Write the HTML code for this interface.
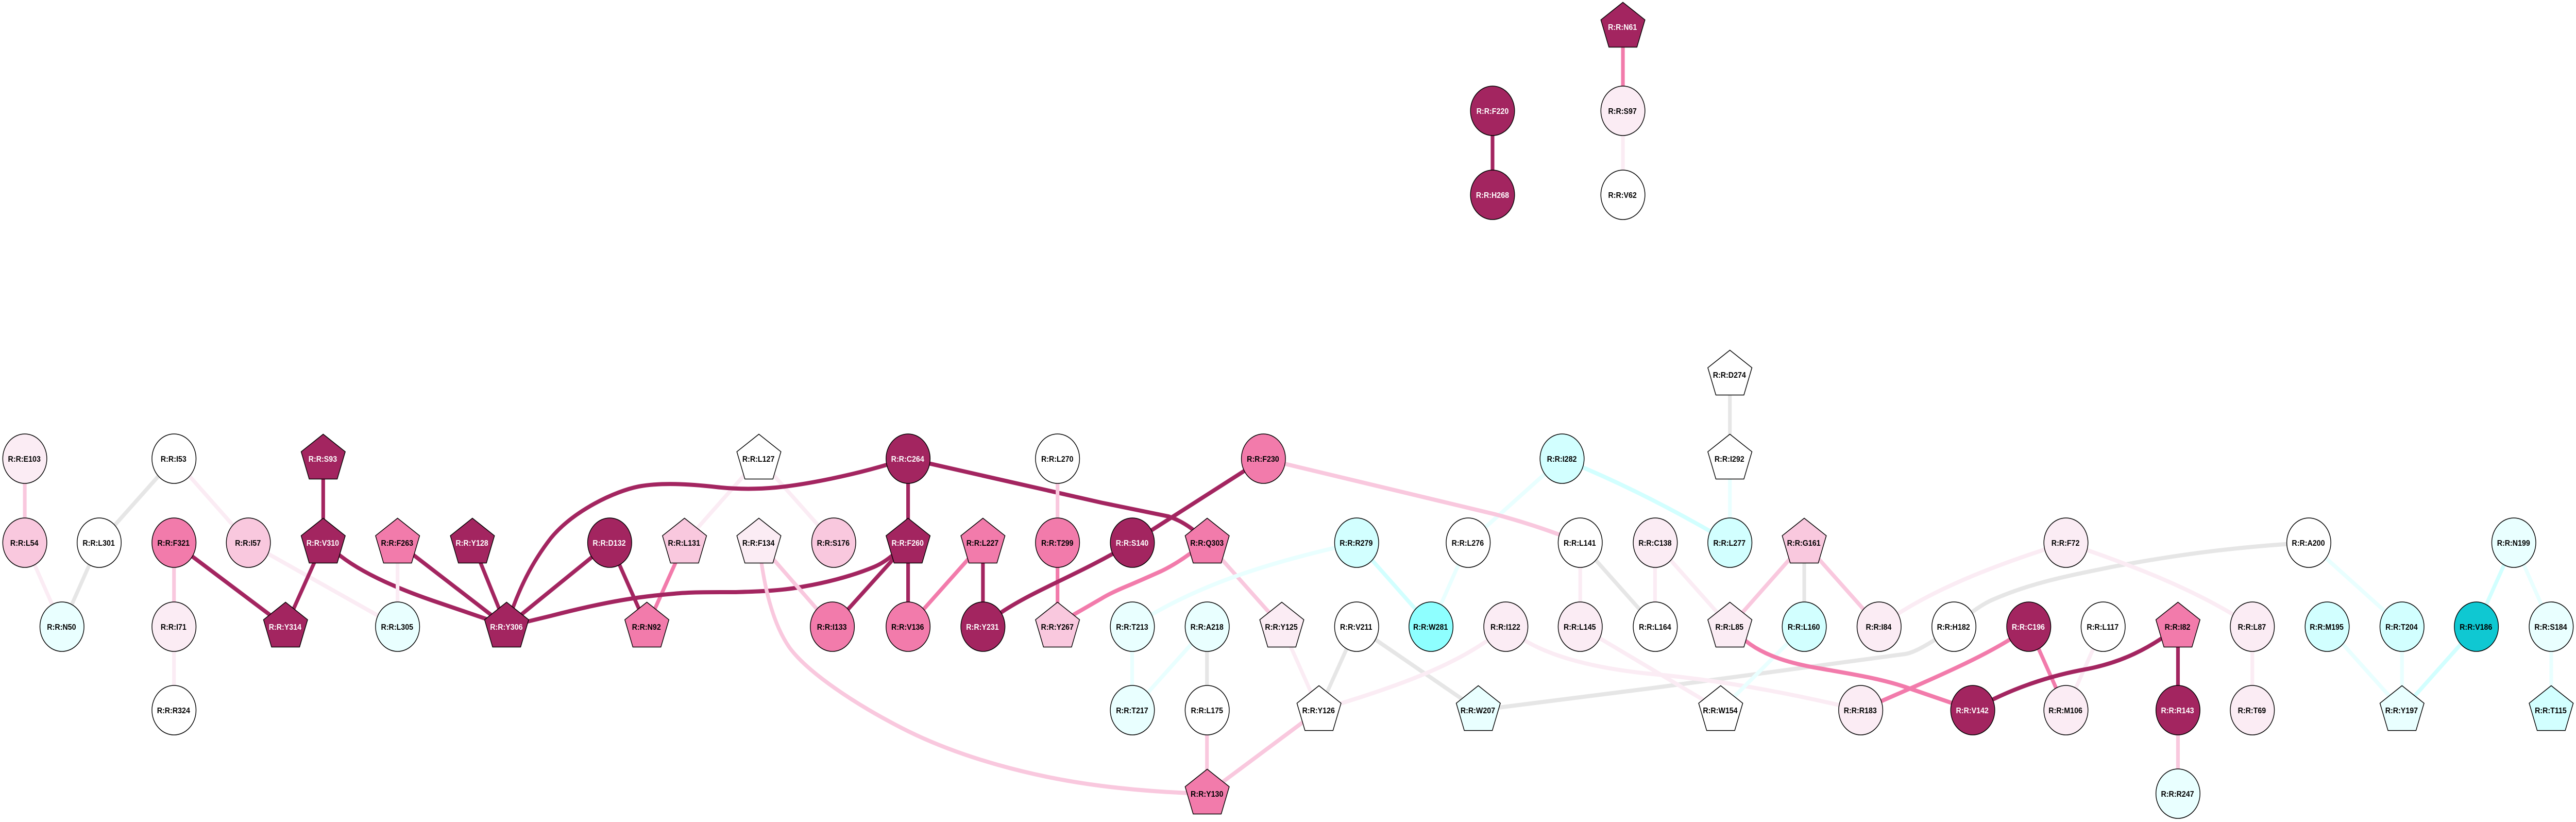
<!DOCTYPE html>
<html><head><meta charset="utf-8"><style>
html,body{margin:0;padding:0;background:#fff;overflow:hidden}
svg{display:block;position:absolute;left:0;top:0;width:100vw;height:100vh}
.e path,.e line{fill:none;stroke-width:8}
.d{stroke:#a32560}.p{stroke:#f27bab}.l{stroke:#f9c8de}.v{stroke:#fbecf4}.g{stroke:#e6e6e6}.c{stroke:#e9ffff}.k{stroke:#d2ffff}
.n ellipse,.n polygon{stroke:#000;stroke-width:1.6}
.Fd{fill:#a32560}.Fp{fill:#f27bab}.Fl{fill:#f9c8de}.Fv{fill:#fbecf4}.Fw{fill:#fff}.Fc{fill:#e9ffff}.Fk{fill:#d2ffff}.Fq{fill:#8effff}.Ft{fill:#0fc8d2}
text{font-family:"Liberation Sans",sans-serif;font-weight:bold;font-size:16px;text-anchor:middle;fill:#000}
text.w{fill:#fff}
</style></head><body>
<svg viewBox="0 0 5611 1595" preserveAspectRatio="none" xmlns="http://www.w3.org/2000/svg">
<rect width="5611" height="1595" fill="#fff"/>
<g class="e">
<line class="l" x1="54" y1="890" x2="54" y2="1053"/>
<line class="v" x1="54" y1="1053" x2="135" y2="1216"/>
<line class="g" x1="379" y1="890" x2="216" y2="1053"/>
<line class="g" x1="216" y1="1053" x2="135" y2="1216"/>
<line class="v" x1="379" y1="890" x2="541" y2="1053"/>
<line class="v" x1="541" y1="1053" x2="866" y2="1216"/>
<line class="l" x1="379" y1="1053" x2="379" y2="1216"/>
<line class="v" x1="379" y1="1216" x2="379" y2="1378"/>
<line class="d" x1="379" y1="1053" x2="622" y2="1216"/>
<line class="d" x1="704" y1="890" x2="704" y2="1053"/>
<line class="d" x1="704" y1="1053" x2="622" y2="1216"/>
<path class="d" d="M704 1053L742 1079C790 1112 860 1140 941 1165L1056 1200L1103 1216"/>
<line class="v" x1="866" y1="1053" x2="866" y2="1216"/>
<line class="d" x1="866" y1="1053" x2="1103" y2="1216"/>
<line class="d" x1="1029" y1="1053" x2="1103" y2="1216"/>
<line class="d" x1="1328" y1="1053" x2="1103" y2="1216"/>
<line class="d" x1="1328" y1="1053" x2="1409" y2="1216"/>
<line class="p" x1="1491" y1="1053" x2="1409" y2="1216"/>
<line class="v" x1="1653" y1="890" x2="1491" y2="1053"/>
<line class="v" x1="1653" y1="890" x2="1816" y2="1053"/>
<path class="d" d="M1978 890L1935 901C1860 921 1760 940 1690 946C1640 950 1600 949 1560 945C1500 939 1440 936 1391 944C1340 953 1250 990 1200 1044C1160 1090 1130 1140 1103 1216"/>
<line class="d" x1="1978" y1="890" x2="1978" y2="1053"/>
<path class="d" d="M1978 890L2400 975.500L2545 1002Q2590 1015 2629 1053"/>
<path class="d" d="M1978 1053L1946 1076Q1925 1092 1904 1100C1850 1120 1790 1132 1751 1138C1700 1147 1640 1148 1600 1149C1540 1149 1500 1149 1468 1152C1400 1157 1330 1165 1200 1195L1103 1216"/>
<line class="d" x1="1978" y1="1053" x2="1813" y2="1216"/>
<line class="d" x1="1978" y1="1053" x2="1978" y2="1216"/>
<line class="l" x1="1653" y1="1053" x2="1813" y2="1216"/>
<path class="l" d="M1653 1053C1660 1110 1675 1200 1720 1257C1760 1305 1860 1365 1965 1413C2090 1470 2250 1508 2400 1525C2480 1534 2550 1538 2629 1540"/>
<line class="p" x1="2141" y1="1053" x2="1978" y2="1216"/>
<line class="d" x1="2141" y1="1053" x2="2141" y2="1216"/>
<line class="l" x1="2303.500" y1="890" x2="2303.500" y2="1053"/>
<line class="p" x1="2303.500" y1="1053" x2="2303.500" y2="1216"/>
<path class="d" d="M2141 1216L2183 1187C2260 1142 2350 1115 2466 1053"/>
<line class="d" x1="2752" y1="890" x2="2466" y2="1053"/>
<path class="p" d="M2629 1053L2591 1075Q2560 1095 2530 1108Q2490 1124 2461 1135Q2420 1150 2400 1161L2340 1192L2303 1216"/>
<line class="l" x1="2629" y1="1053" x2="2792" y2="1216"/>
<path class="c" d="M2955 1053C2800 1085 2620 1125 2466 1216"/>
<line class="k" x1="2955" y1="1053" x2="3117" y2="1216"/>
<line class="c" x1="3198" y1="1053" x2="3117" y2="1216"/>
<line class="c" x1="3402" y1="890" x2="3198" y2="1053"/>
<path class="k" d="M3402 890C3500 925 3620 975 3768 1053"/>
<line class="c" x1="3768" y1="890" x2="3768" y2="1053"/>
<line class="g" x1="3768" y1="727" x2="3768" y2="890"/>
<path class="l" d="M2752 890L3257 998Q3350 1020 3442 1053"/>
<line class="v" x1="3442" y1="1053" x2="3442" y2="1216"/>
<line class="g" x1="3442" y1="1053" x2="3605" y2="1216"/>
<line class="v" x1="3605" y1="1053" x2="3605" y2="1216"/>
<line class="v" x1="3605" y1="1053" x2="3768" y2="1216"/>
<line class="c" x1="2466" y1="1216" x2="2466" y2="1378"/>
<line class="c" x1="2629" y1="1216" x2="2466" y2="1378"/>
<line class="g" x1="2629" y1="1216" x2="2629" y2="1378"/>
<line class="l" x1="2629" y1="1378" x2="2629" y2="1540"/>
<line class="l" x1="2873" y1="1378" x2="2629" y2="1540"/>
<line class="v" x1="2792" y1="1216" x2="2873" y2="1378"/>
<line class="g" x1="2955" y1="1216" x2="2873" y2="1378"/>
<line class="g" x1="2955" y1="1216" x2="3220" y2="1378"/>
<path class="g" d="M3220 1378L3600 1335L4150 1269Q4180 1265 4256 1216"/>
<path class="g" d="M4256 1216L4298 1186Q4320 1172 4337 1165C4420 1132 4500 1118 4600 1100C4720 1080 4850 1062 5029 1053"/>
<path class="v" d="M3280 1216C3180 1290 3050 1330 2873 1378"/>
<path class="v" d="M3280 1216C3340 1265 3450 1295 3600 1308C3750 1320 3900 1345 4053 1378"/>
<line class="v" x1="3442" y1="1216" x2="3748" y2="1378"/>
<line class="c" x1="3930" y1="1216" x2="3748" y2="1378"/>
<line class="l" x1="3930" y1="1053" x2="3768" y2="1216"/>
<line class="g" x1="3930" y1="1053" x2="3930" y2="1216"/>
<line class="l" x1="3930" y1="1053" x2="4093" y2="1216"/>
<path class="p" d="M3768 1216L3803 1244C3840 1270 3890 1285 3951 1295C4020 1306 4090 1315 4150 1333L4297 1378"/>
<path class="v" d="M4093 1216C4200 1145 4350 1095 4500 1053"/>
<path class="v" d="M4500 1053C4620 1090 4780 1140 4906 1216"/>
<path class="p" d="M4419 1216C4340 1270 4200 1320 4053 1378"/>
<line class="p" x1="4419" y1="1216" x2="4500" y2="1378"/>
<line class="v" x1="4581" y1="1216" x2="4500" y2="1378"/>
<path class="d" d="M4297 1378C4380 1335 4470 1310 4547 1298C4620 1285 4680 1260 4744 1216"/>
<line class="d" x1="4744" y1="1216" x2="4744" y2="1378"/>
<line class="l" x1="4744" y1="1378" x2="4744" y2="1540"/>
<line class="v" x1="4906" y1="1216" x2="4906" y2="1378"/>
<line class="c" x1="5029" y1="1053" x2="5232" y2="1216"/>
<line class="k" x1="5476" y1="1053" x2="5394" y2="1216"/>
<line class="c" x1="5476" y1="1053" x2="5557" y2="1216"/>
<line class="c" x1="5069" y1="1216" x2="5232" y2="1378"/>
<line class="c" x1="5232" y1="1216" x2="5232" y2="1378"/>
<line class="k" x1="5394" y1="1216" x2="5232" y2="1378"/>
<line class="c" x1="5557" y1="1216" x2="5557" y2="1378"/>
<line class="p" x1="3535" y1="52" x2="3535" y2="215"/>
<line class="v" x1="3535" y1="215" x2="3535" y2="378"/>
<line class="d" x1="3251" y1="215" x2="3251" y2="378"/>
</g>
<g class="n">
<ellipse cx="54" cy="890" rx="48" ry="48" class="Fv"/><text x="53" y="896">R:R:E103</text>
<ellipse cx="54" cy="1053" rx="48" ry="48" class="Fl"/><text x="53" y="1059">R:R:L54</text>
<ellipse cx="379" cy="890" rx="48" ry="48" class="Fw"/><text x="378" y="896">R:R:I53</text>
<ellipse cx="216" cy="1053" rx="48" ry="48" class="Fw"/><text x="215" y="1059">R:R:L301</text>
<ellipse cx="135" cy="1216" rx="48" ry="48" class="Fc"/><text x="134" y="1222">R:R:N50</text>
<ellipse cx="379" cy="1053" rx="48" ry="48" class="Fp"/><text x="378" y="1059">R:R:F321</text>
<ellipse cx="379" cy="1216" rx="48" ry="48" class="Fv"/><text x="378" y="1222">R:R:I71</text>
<ellipse cx="379" cy="1378" rx="48" ry="48" class="Fw"/><text x="378" y="1384">R:R:R324</text>
<ellipse cx="541" cy="1053" rx="48" ry="48" class="Fl"/><text x="540" y="1059">R:R:I57</text>
<polygon transform="translate(704 890)" points="0,-47.5 48,-13.5 30.5,39.5 -30.5,39.5 -48,-13.5" class="Fd"/><text class="w" x="703" y="896">R:R:S93</text>
<polygon transform="translate(704 1053)" points="0,-47.5 48,-13.5 30.5,39.5 -30.5,39.5 -48,-13.5" class="Fd"/><text class="w" x="703" y="1059">R:R:V310</text>
<polygon transform="translate(622 1216)" points="0,-47.5 48,-13.5 30.5,39.5 -30.5,39.5 -48,-13.5" class="Fd"/><text class="w" x="621" y="1222">R:R:Y314</text>
<polygon transform="translate(866 1053)" points="0,-47.5 48,-13.5 30.5,39.5 -30.5,39.5 -48,-13.5" class="Fp"/><text x="865" y="1059">R:R:F263</text>
<ellipse cx="866" cy="1216" rx="48" ry="48" class="Fc"/><text x="865" y="1222">R:R:L305</text>
<polygon transform="translate(1029 1053)" points="0,-47.5 48,-13.5 30.5,39.5 -30.5,39.5 -48,-13.5" class="Fd"/><text class="w" x="1028" y="1059">R:R:Y128</text>
<polygon transform="translate(1103.500 1216)" points="0,-47.5 48,-13.5 30.5,39.5 -30.5,39.5 -48,-13.5" class="Fd"/><text class="w" x="1103" y="1222">R:R:Y306</text>
<ellipse cx="1328" cy="1053" rx="48" ry="48" class="Fd"/><text class="w" x="1327" y="1059">R:R:D132</text>
<polygon transform="translate(1491 1053)" points="0,-47.5 48,-13.5 30.5,39.5 -30.5,39.5 -48,-13.5" class="Fl"/><text x="1490" y="1059">R:R:L131</text>
<polygon transform="translate(1409 1216)" points="0,-47.5 48,-13.5 30.5,39.5 -30.5,39.5 -48,-13.5" class="Fp"/><text x="1408" y="1222">R:R:N92</text>
<polygon transform="translate(1653 890)" points="0,-47.5 48,-13.5 30.5,39.5 -30.5,39.5 -48,-13.5" class="Fw"/><text x="1652" y="896">R:R:L127</text>
<polygon transform="translate(1653 1053)" points="0,-47.5 48,-13.5 30.5,39.5 -30.5,39.5 -48,-13.5" class="Fv"/><text x="1652" y="1059">R:R:F134</text>
<ellipse cx="1816" cy="1053" rx="48" ry="48" class="Fl"/><text x="1815" y="1059">R:R:S176</text>
<ellipse cx="1978" cy="890" rx="48" ry="48" class="Fd"/><text class="w" x="1977" y="896">R:R:C264</text>
<polygon transform="translate(1978 1053)" points="0,-47.5 48,-13.5 30.5,39.5 -30.5,39.5 -48,-13.5" class="Fd"/><text class="w" x="1977" y="1059">R:R:F260</text>
<polygon transform="translate(2141 1053)" points="0,-47.5 48,-13.5 30.5,39.5 -30.5,39.5 -48,-13.5" class="Fp"/><text x="2140" y="1059">R:R:L227</text>
<ellipse cx="2303.500" cy="890" rx="48" ry="48" class="Fw"/><text x="2303" y="896">R:R:L270</text>
<ellipse cx="2303.500" cy="1053" rx="48" ry="48" class="Fp"/><text x="2303" y="1059">R:R:T299</text>
<ellipse cx="1813" cy="1216" rx="48" ry="48" class="Fp"/><text x="1812" y="1222">R:R:I133</text>
<ellipse cx="1978" cy="1216" rx="48" ry="48" class="Fp"/><text x="1977" y="1222">R:R:V136</text>
<ellipse cx="2141" cy="1216" rx="48" ry="48" class="Fd"/><text class="w" x="2140" y="1222">R:R:Y231</text>
<polygon transform="translate(2303.500 1216)" points="0,-47.5 48,-13.5 30.5,39.5 -30.5,39.5 -48,-13.5" class="Fl"/><text x="2303" y="1222">R:R:Y267</text>
<ellipse cx="2752" cy="890" rx="48" ry="48" class="Fp"/><text x="2751" y="896">R:R:F230</text>
<ellipse cx="3402.500" cy="890" rx="48" ry="48" class="Fk"/><text x="3402" y="896">R:R:I282</text>
<ellipse cx="2466.500" cy="1053" rx="48" ry="48" class="Fd"/><text class="w" x="2466" y="1059">R:R:S140</text>
<polygon transform="translate(2629.500 1053)" points="0,-47.5 48,-13.5 30.5,39.5 -30.5,39.5 -48,-13.5" class="Fp"/><text x="2629" y="1059">R:R:Q303</text>
<ellipse cx="2955" cy="1053" rx="48" ry="48" class="Fk"/><text x="2954" y="1059">R:R:R279</text>
<ellipse cx="3198" cy="1053" rx="48" ry="48" class="Fw"/><text x="3197" y="1059">R:R:L276</text>
<ellipse cx="3442" cy="1053" rx="48" ry="48" class="Fw"/><text x="3441" y="1059">R:R:L141</text>
<ellipse cx="2466.500" cy="1216" rx="48" ry="48" class="Fc"/><text x="2466" y="1222">R:R:T213</text>
<ellipse cx="2629.500" cy="1216" rx="48" ry="48" class="Fc"/><text x="2629" y="1222">R:R:A218</text>
<polygon transform="translate(2792 1216)" points="0,-47.5 48,-13.5 30.5,39.5 -30.5,39.5 -48,-13.5" class="Fv"/><text x="2791" y="1222">R:R:Y125</text>
<ellipse cx="2955" cy="1216" rx="48" ry="48" class="Fw"/><text x="2954" y="1222">R:R:V211</text>
<ellipse cx="3117" cy="1216" rx="48" ry="48" class="Fq"/><text x="3116" y="1222">R:R:W281</text>
<ellipse cx="3280" cy="1216" rx="48" ry="48" class="Fv"/><text x="3279" y="1222">R:R:I122</text>
<ellipse cx="3442" cy="1216" rx="48" ry="48" class="Fv"/><text x="3441" y="1222">R:R:L145</text>
<ellipse cx="2466.500" cy="1378" rx="48" ry="48" class="Fc"/><text x="2466" y="1384">R:R:T217</text>
<ellipse cx="2629.500" cy="1378" rx="48" ry="48" class="Fw"/><text x="2629" y="1384">R:R:L175</text>
<polygon transform="translate(2873 1378)" points="0,-47.5 48,-13.5 30.5,39.5 -30.5,39.5 -48,-13.5" class="Fw"/><text x="2872" y="1384">R:R:Y126</text>
<polygon transform="translate(3220 1378)" points="0,-47.5 48,-13.5 30.5,39.5 -30.5,39.5 -48,-13.5" class="Fc"/><text x="3219" y="1384">R:R:W207</text>
<polygon transform="translate(2629.500 1540)" points="0,-47.5 48,-13.5 30.5,39.5 -30.5,39.5 -48,-13.5" class="Fp"/><text x="2629" y="1546">R:R:Y130</text>
<polygon transform="translate(3768 727)" points="0,-47.5 48,-13.5 30.5,39.5 -30.5,39.5 -48,-13.5" class="Fw"/><text x="3767" y="733">R:R:D274</text>
<polygon transform="translate(3768 890)" points="0,-47.5 48,-13.5 30.5,39.5 -30.5,39.5 -48,-13.5" class="Fw"/><text x="3767" y="896">R:R:I292</text>
<ellipse cx="3605.500" cy="1053" rx="48" ry="48" class="Fv"/><text x="3605" y="1059">R:R:C138</text>
<ellipse cx="3768" cy="1053" rx="48" ry="48" class="Fk"/><text x="3767" y="1059">R:R:L277</text>
<polygon transform="translate(3930 1053)" points="0,-47.5 48,-13.5 30.5,39.5 -30.5,39.5 -48,-13.5" class="Fl"/><text x="3929" y="1059">R:R:G161</text>
<ellipse cx="4500" cy="1053" rx="48" ry="48" class="Fv"/><text x="4499" y="1059">R:R:F72</text>
<ellipse cx="3605.500" cy="1216" rx="48" ry="48" class="Fw"/><text x="3605" y="1222">R:R:L164</text>
<polygon transform="translate(3768 1216)" points="0,-47.5 48,-13.5 30.5,39.5 -30.5,39.5 -48,-13.5" class="Fv"/><text x="3767" y="1222">R:R:L85</text>
<ellipse cx="3930" cy="1216" rx="48" ry="48" class="Fk"/><text x="3929" y="1222">R:R:L160</text>
<ellipse cx="4093" cy="1216" rx="48" ry="48" class="Fv"/><text x="4092" y="1222">R:R:I84</text>
<ellipse cx="4256" cy="1216" rx="48" ry="48" class="Fw"/><text x="4255" y="1222">R:R:H182</text>
<ellipse cx="4419" cy="1216" rx="48" ry="48" class="Fd"/><text class="w" x="4418" y="1222">R:R:C196</text>
<ellipse cx="4581" cy="1216" rx="48" ry="48" class="Fw"/><text x="4580" y="1222">R:R:L117</text>
<polygon transform="translate(3748 1378)" points="0,-47.5 48,-13.5 30.5,39.5 -30.5,39.5 -48,-13.5" class="Fw"/><text x="3747" y="1384">R:R:W154</text>
<ellipse cx="4053" cy="1378" rx="48" ry="48" class="Fv"/><text x="4052" y="1384">R:R:R183</text>
<ellipse cx="4297" cy="1378" rx="48" ry="48" class="Fd"/><text class="w" x="4296" y="1384">R:R:V142</text>
<ellipse cx="4500" cy="1378" rx="48" ry="48" class="Fv"/><text x="4499" y="1384">R:R:M106</text>
<ellipse cx="5029" cy="1053" rx="48" ry="48" class="Fw"/><text x="5028" y="1059">R:R:A200</text>
<ellipse cx="5475.500" cy="1053" rx="48" ry="48" class="Fc"/><text x="5475" y="1059">R:R:N199</text>
<polygon transform="translate(4744 1216)" points="0,-47.5 48,-13.5 30.5,39.5 -30.5,39.5 -48,-13.5" class="Fp"/><text x="4743" y="1222">R:R:I82</text>
<ellipse cx="4906" cy="1216" rx="48" ry="48" class="Fv"/><text x="4905" y="1222">R:R:L87</text>
<ellipse cx="5069" cy="1216" rx="48" ry="48" class="Fk"/><text x="5068" y="1222">R:R:M195</text>
<ellipse cx="5232" cy="1216" rx="48" ry="48" class="Fk"/><text x="5231" y="1222">R:R:T204</text>
<ellipse cx="5394" cy="1216" rx="48" ry="48" class="Ft"/><text x="5393" y="1222">R:R:V186</text>
<ellipse cx="5557" cy="1216" rx="48" ry="48" class="Fc"/><text x="5556" y="1222">R:R:S184</text>
<ellipse cx="4744" cy="1378" rx="48" ry="48" class="Fd"/><text class="w" x="4743" y="1384">R:R:R143</text>
<ellipse cx="4906" cy="1378" rx="48" ry="48" class="Fv"/><text x="4905" y="1384">R:R:T69</text>
<polygon transform="translate(5232 1378)" points="0,-47.5 48,-13.5 30.5,39.5 -30.5,39.5 -48,-13.5" class="Fc"/><text x="5231" y="1384">R:R:Y197</text>
<polygon transform="translate(5557 1378)" points="0,-47.5 48,-13.5 30.5,39.5 -30.5,39.5 -48,-13.5" class="Fk"/><text x="5556" y="1384">R:R:T115</text>
<ellipse cx="4744" cy="1540" rx="48" ry="48" class="Fc"/><text x="4743" y="1546">R:R:R247</text>
<ellipse cx="3251" cy="215" rx="48" ry="48" class="Fd"/><text class="w" x="3251" y="221">R:R:F220</text>
<ellipse cx="3251" cy="378" rx="48" ry="48" class="Fd"/><text class="w" x="3251" y="384">R:R:H268</text>
<polygon transform="translate(3535 52)" points="0,-47.5 48,-13.5 30.5,39.5 -30.5,39.5 -48,-13.5" class="Fd"/><text class="w" x="3534" y="58">R:R:N61</text>
<ellipse cx="3535" cy="215" rx="48" ry="48" class="Fv"/><text x="3534" y="221">R:R:S97</text>
<ellipse cx="3535" cy="378" rx="48" ry="48" class="Fw"/><text x="3534" y="384">R:R:V62</text>
</g>
</svg>
</body></html>
